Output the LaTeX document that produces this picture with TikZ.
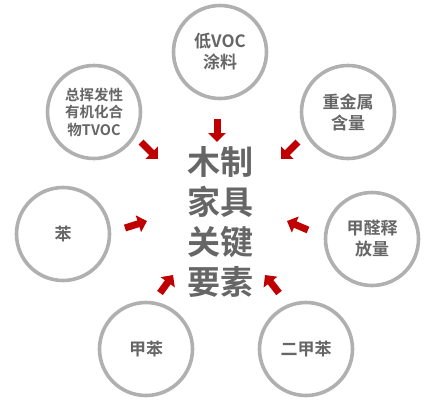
\documentclass[tikz,border=0pt]{standalone}
\usepackage{fontspec}
\usepackage{tikz}
\usetikzlibrary{arrows.meta,positioning}
\newfontfamily\cjk{Noto Sans CJK SC}[BoldFont={Noto Sans CJK SC Bold}]
\definecolor{ringc}{HTML}{B0B0B0}
\definecolor{txtc}{HTML}{666666}
\definecolor{arrc}{HTML}{C00000}
\tikzset{
  circ/.style={draw=ringc, circle, line width=3.6pt, minimum size=93pt, inner sep=0pt, align=center,
    text=txtc, font=\cjk\bfseries\fontsize{17}{21}\selectfont},
  arr/.style={-{Triangle[length=9pt, width=17pt]}, line width=7pt, arrc},
  hub/.style={align=center, text=txtc, font=\cjk\bfseries\fontsize{33}{40}\selectfont},
}
\begin{document}
\begin{tikzpicture}[x=1pt, y=-1pt]
  \useasboundingbox (0,0) rectangle (434,400);
  % center
  \node[hub] (core) at (220,222) {木制\\家具\\关键\\要素};
  % circles
  \node[circ] (voc) at (220,52) {低VOC\\涂料};
  \node[circ, font=\cjk\bfseries\fontsize{14.5}{17.5}\selectfont] (tvoc) at (94,112) {总挥发性\\有机化合\\物TVOC};
  \node[circ] (metal) at (348,112) {重金属\\含量};
  \node[circ] (benz) at (63,234) {苯};
  \node[circ] (hcho) at (372,239) {甲醛释\\放量};
  \node[circ] (tol) at (146,349) {甲苯};
  \node[circ] (xyl) at (306,349) {二甲苯};
  % arrows
  \coordinate (a1) at (217,119);  \coordinate (b1) at (217,142);
  \coordinate (a2) at (141,142);  \coordinate (b2) at (158,159);
  \coordinate (a3) at (298,142);  \coordinate (b3) at (281,159);
  \coordinate (a4) at (125,228);  \coordinate (b4) at (147,221);
  \coordinate (a5) at (308,230);  \coordinate (b5) at (287,221);
  \coordinate (a6) at (160,293);  \coordinate (b6) at (173,275);
  \coordinate (a7) at (279,293);  \coordinate (b7) at (265,275);
  \foreach \i in {1,...,7} { \draw[arr] (a\i) -- (b\i); }
\end{tikzpicture}
\end{document}
